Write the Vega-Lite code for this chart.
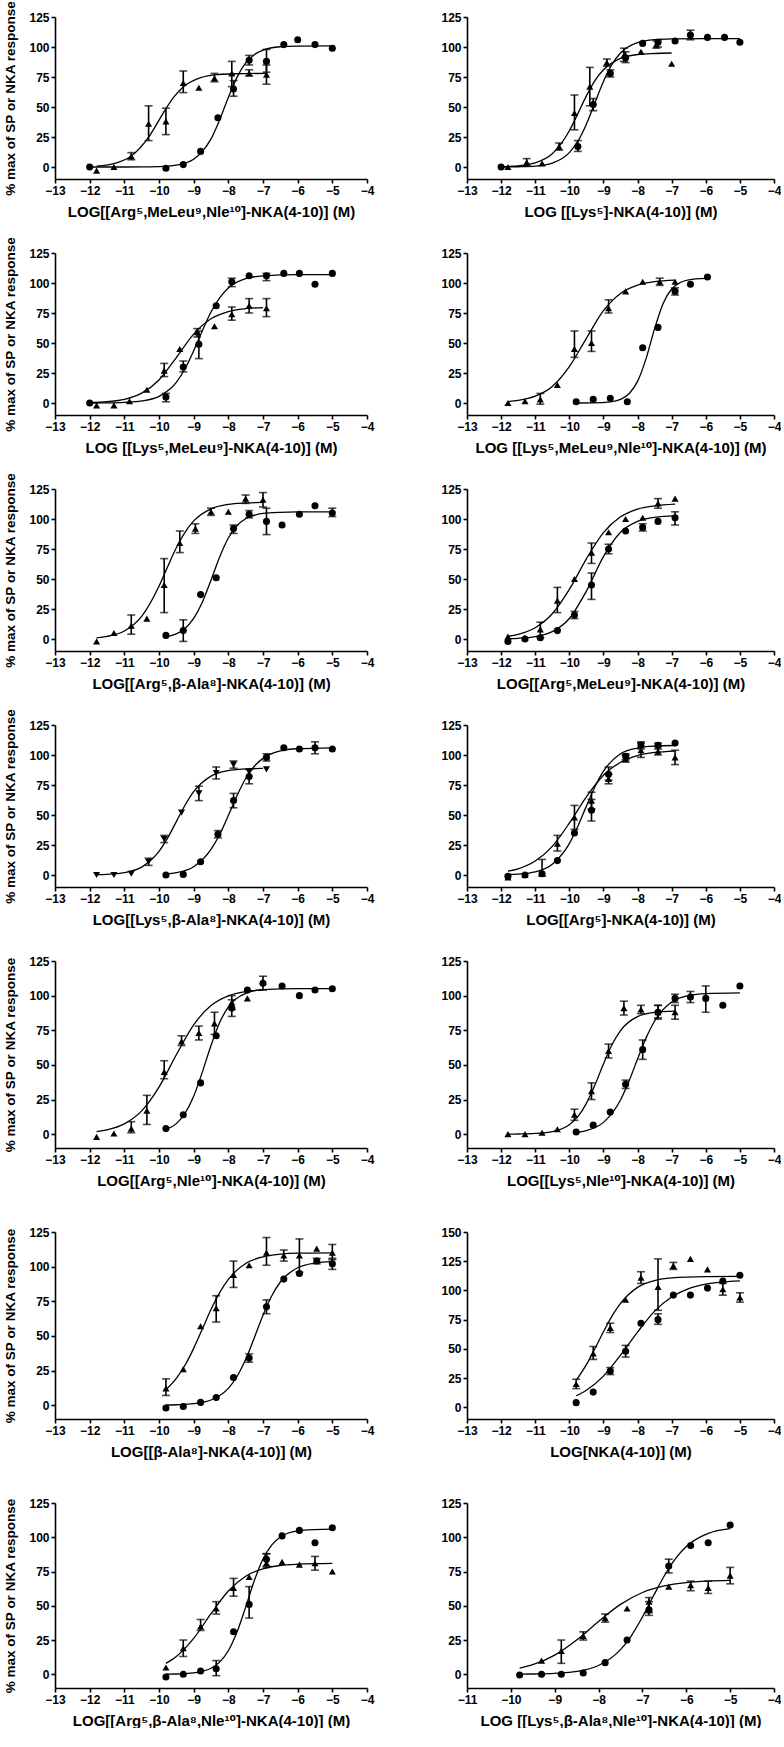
{
"$schema":"https://vega.github.io/schema/vega-lite/v6.json",
"padding":{"left":3,"top":0,"right":0,"bottom":0},
"config":{"view":{"stroke":null},"font":"Liberation Sans",
"axis":{"grid":false,"domainColor":"black","domainWidth":1.6,"tickColor":"black","tickWidth":1.6,"tickSize":4,"labelFont":"Liberation Sans","labelFontWeight":"bold","labelFontSize":12,"labelColor":"black","labelPadding":2,"titleFont":"Liberation Sans, DejaVu Sans, sans-serif","titleFontWeight":"bold","titleColor":"black","labelFlush":false,"labelOverlap":false},
"axisX":{"titleFontSize":15,"titlePadding":8},
"axisY":{"titleFontSize":13.5,"titlePadding":11}},
"datasets":{
"pts":[
{"p":1,"s":"c","x":-12,"y":0},{"p":1,"s":"c","x":-9.8,"y":-1},{"p":1,"s":"c","x":-9.3,"y":2},{"p":1,"s":"c","x":-8.8,"y":13},{"p":1,"s":"c","x":-8.3,"y":41},{"p":1,"s":"c","x":-7.85,"y":65,"lo":59,"hi":72},{"p":1,"s":"c","x":-7.4,"y":89,"lo":85,"hi":93},{"p":1,"s":"c","x":-6.9,"y":88,"lo":79,"hi":98},{"p":1,"s":"c","x":-6.4,"y":102},{"p":1,"s":"c","x":-6,"y":106},{"p":1,"s":"c","x":-5.5,"y":102},{"p":1,"s":"c","x":-5,"y":99},
{"p":1,"s":"t","x":-11.8,"y":-3},{"p":1,"s":"t","x":-11.3,"y":0},{"p":1,"s":"t","x":-10.8,"y":9,"lo":6,"hi":12},{"p":1,"s":"t","x":-10.3,"y":36,"lo":22,"hi":51},{"p":1,"s":"t","x":-9.8,"y":38,"lo":27,"hi":49},{"p":1,"s":"t","x":-9.3,"y":70,"lo":62,"hi":80},{"p":1,"s":"t","x":-8.85,"y":66},{"p":1,"s":"t","x":-8.4,"y":74,"lo":71,"hi":78},{"p":1,"s":"t","x":-7.9,"y":78,"lo":67,"hi":88},{"p":1,"s":"t","x":-7.4,"y":78,"lo":76,"hi":81},{"p":1,"s":"t","x":-6.9,"y":77,"lo":69,"hi":85},
{"p":2,"s":"c","x":-12,"y":0},{"p":2,"s":"c","x":-9.75,"y":17,"lo":13,"hi":22},{"p":2,"s":"c","x":-9.3,"y":52,"lo":47,"hi":57},{"p":2,"s":"c","x":-8.8,"y":78,"lo":75,"hi":81},{"p":2,"s":"c","x":-8.35,"y":91,"lo":87,"hi":96},{"p":2,"s":"c","x":-7.85,"y":103},{"p":2,"s":"c","x":-7.4,"y":104,"lo":100,"hi":106},{"p":2,"s":"c","x":-6.9,"y":105},{"p":2,"s":"c","x":-6.45,"y":110,"lo":106,"hi":114},{"p":2,"s":"c","x":-5.95,"y":108},{"p":2,"s":"c","x":-5.45,"y":108},{"p":2,"s":"c","x":-5,"y":104},
{"p":2,"s":"t","x":-11.8,"y":0},{"p":2,"s":"t","x":-11.25,"y":4,"lo":1,"hi":7},{"p":2,"s":"t","x":-10.8,"y":3},{"p":2,"s":"t","x":-10.3,"y":17,"lo":14,"hi":20},{"p":2,"s":"t","x":-9.85,"y":45,"lo":31,"hi":60},{"p":2,"s":"t","x":-9.4,"y":67,"lo":51,"hi":83},{"p":2,"s":"t","x":-8.9,"y":87,"lo":84,"hi":90},{"p":2,"s":"t","x":-8.4,"y":93,"lo":88,"hi":99},{"p":2,"s":"t","x":-7.9,"y":96},{"p":2,"s":"t","x":-7.45,"y":102,"lo":99,"hi":105},{"p":2,"s":"t","x":-7,"y":86},
{"p":3,"s":"c","x":-12,"y":0},{"p":3,"s":"c","x":-9.8,"y":5,"lo":1,"hi":8},{"p":3,"s":"c","x":-9.3,"y":30,"lo":26,"hi":35},{"p":3,"s":"c","x":-8.85,"y":49,"lo":37,"hi":60},{"p":3,"s":"c","x":-8.35,"y":81},{"p":3,"s":"c","x":-7.9,"y":101,"lo":97,"hi":104},{"p":3,"s":"c","x":-7.4,"y":106},{"p":3,"s":"c","x":-6.9,"y":106,"lo":102,"hi":108},{"p":3,"s":"c","x":-6.4,"y":108},{"p":3,"s":"c","x":-5.95,"y":108},{"p":3,"s":"c","x":-5.5,"y":99},{"p":3,"s":"c","x":-5,"y":108},
{"p":3,"s":"t","x":-11.8,"y":-2},{"p":3,"s":"t","x":-11.3,"y":-2},{"p":3,"s":"t","x":-10.85,"y":1.5},{"p":3,"s":"t","x":-10.35,"y":11},{"p":3,"s":"t","x":-9.85,"y":27,"lo":22,"hi":33},{"p":3,"s":"t","x":-9.4,"y":45},{"p":3,"s":"t","x":-8.9,"y":59,"lo":55,"hi":62},{"p":3,"s":"t","x":-8.4,"y":64},{"p":3,"s":"t","x":-7.9,"y":74,"lo":69,"hi":80},{"p":3,"s":"t","x":-7.4,"y":81,"lo":75,"hi":87},{"p":3,"s":"t","x":-6.9,"y":79,"lo":72,"hi":87},
{"p":4,"s":"t","x":-11.8,"y":0},{"p":4,"s":"t","x":-11.3,"y":1.5},{"p":4,"s":"t","x":-10.85,"y":3,"lo":-1,"hi":8},{"p":4,"s":"t","x":-10.35,"y":15},{"p":4,"s":"t","x":-9.85,"y":45,"lo":38,"hi":60},{"p":4,"s":"t","x":-9.35,"y":50,"lo":43,"hi":60},{"p":4,"s":"t","x":-8.85,"y":79,"lo":75,"hi":86},{"p":4,"s":"t","x":-8.35,"y":93},{"p":4,"s":"t","x":-7.85,"y":101},{"p":4,"s":"t","x":-7.35,"y":101,"lo":98,"hi":104},{"p":4,"s":"t","x":-6.9,"y":101},
{"p":4,"s":"c","x":-9.8,"y":1},{"p":4,"s":"c","x":-9.3,"y":3},{"p":4,"s":"c","x":-8.8,"y":4},{"p":4,"s":"c","x":-8.3,"y":1},{"p":4,"s":"c","x":-7.85,"y":46},{"p":4,"s":"c","x":-7.4,"y":63},{"p":4,"s":"c","x":-6.9,"y":93,"lo":90,"hi":96},{"p":4,"s":"c","x":-6.45,"y":99},{"p":4,"s":"c","x":-5.95,"y":105},
{"p":5,"s":"t","x":-11.8,"y":-2},{"p":5,"s":"t","x":-11.3,"y":5},{"p":5,"s":"t","x":-10.8,"y":11,"lo":4,"hi":20},{"p":5,"s":"t","x":-10.35,"y":17},{"p":5,"s":"t","x":-9.85,"y":45,"lo":22,"hi":67},{"p":5,"s":"t","x":-9.4,"y":80,"lo":72,"hi":90},{"p":5,"s":"t","x":-8.95,"y":92,"lo":88,"hi":96},{"p":5,"s":"t","x":-8.5,"y":106,"lo":103,"hi":109},{"p":5,"s":"t","x":-8,"y":106},{"p":5,"s":"t","x":-7.5,"y":117,"lo":113,"hi":120},{"p":5,"s":"t","x":-7,"y":116,"lo":110,"hi":122},
{"p":5,"s":"c","x":-9.8,"y":3},{"p":5,"s":"c","x":-9.3,"y":7,"lo":-2,"hi":16},{"p":5,"s":"c","x":-8.8,"y":37},{"p":5,"s":"c","x":-8.35,"y":51},{"p":5,"s":"c","x":-7.85,"y":92,"lo":88,"hi":95},{"p":5,"s":"c","x":-7.4,"y":104,"lo":101,"hi":107},{"p":5,"s":"c","x":-6.9,"y":98,"lo":87,"hi":109},{"p":5,"s":"c","x":-6.45,"y":95},{"p":5,"s":"c","x":-5.95,"y":104},{"p":5,"s":"c","x":-5.5,"y":111},{"p":5,"s":"c","x":-5,"y":105,"lo":102,"hi":109},
{"p":6,"s":"c","x":-11.8,"y":-2},{"p":6,"s":"c","x":-11.3,"y":0},{"p":6,"s":"c","x":-10.85,"y":1},{"p":6,"s":"c","x":-10.35,"y":7},{"p":6,"s":"c","x":-9.85,"y":20,"lo":17,"hi":23},{"p":6,"s":"c","x":-9.35,"y":45,"lo":33,"hi":55},{"p":6,"s":"c","x":-8.85,"y":75,"lo":71,"hi":79},{"p":6,"s":"c","x":-8.35,"y":90},{"p":6,"s":"c","x":-7.85,"y":93,"lo":90,"hi":96},{"p":6,"s":"c","x":-7.4,"y":98},{"p":6,"s":"c","x":-6.9,"y":101,"lo":95,"hi":106},
{"p":6,"s":"t","x":-11.8,"y":2},{"p":6,"s":"t","x":-11.3,"y":1},{"p":6,"s":"t","x":-10.85,"y":8,"lo":1,"hi":14},{"p":6,"s":"t","x":-10.35,"y":32,"lo":22,"hi":43},{"p":6,"s":"t","x":-9.85,"y":50},{"p":6,"s":"t","x":-9.35,"y":72,"lo":63,"hi":80},{"p":6,"s":"t","x":-8.85,"y":89},{"p":6,"s":"t","x":-8.35,"y":100},{"p":6,"s":"t","x":-7.85,"y":101},{"p":6,"s":"t","x":-7.4,"y":113,"lo":109,"hi":117},{"p":6,"s":"t","x":-6.9,"y":117},
{"p":7,"s":"v","x":-11.8,"y":0},{"p":7,"s":"v","x":-11.3,"y":0},{"p":7,"s":"v","x":-10.8,"y":1},{"p":7,"s":"v","x":-10.3,"y":11,"lo":8,"hi":14},{"p":7,"s":"v","x":-9.85,"y":30,"lo":27,"hi":33},{"p":7,"s":"v","x":-9.35,"y":52},{"p":7,"s":"v","x":-8.85,"y":68,"lo":62,"hi":74},{"p":7,"s":"v","x":-8.35,"y":85,"lo":80,"hi":90},{"p":7,"s":"v","x":-7.85,"y":92,"lo":89,"hi":95},{"p":7,"s":"v","x":-7.4,"y":86},{"p":7,"s":"v","x":-6.9,"y":88},
{"p":7,"s":"c","x":-9.8,"y":0},{"p":7,"s":"c","x":-9.3,"y":0.5},{"p":7,"s":"c","x":-8.8,"y":11},{"p":7,"s":"c","x":-8.3,"y":34,"lo":31,"hi":37},{"p":7,"s":"c","x":-7.85,"y":62,"lo":56,"hi":68},{"p":7,"s":"c","x":-7.4,"y":82,"lo":76,"hi":88},{"p":7,"s":"c","x":-6.9,"y":98,"lo":95,"hi":101},{"p":7,"s":"c","x":-6.4,"y":106},{"p":7,"s":"c","x":-5.95,"y":105},{"p":7,"s":"c","x":-5.5,"y":106,"lo":101,"hi":111},{"p":7,"s":"c","x":-5,"y":105},
{"p":8,"s":"t","x":-11.8,"y":-2},{"p":8,"s":"t","x":-11.3,"y":0},{"p":8,"s":"t","x":-10.8,"y":2,"lo":-1,"hi":13},{"p":8,"s":"t","x":-10.35,"y":26,"lo":20,"hi":33},{"p":8,"s":"t","x":-9.85,"y":48,"lo":38,"hi":58},{"p":8,"s":"t","x":-9.35,"y":62,"lo":55,"hi":69},{"p":8,"s":"t","x":-8.85,"y":80,"lo":76,"hi":84},{"p":8,"s":"t","x":-8.35,"y":97,"lo":94,"hi":100},{"p":8,"s":"t","x":-7.9,"y":104,"lo":98,"hi":110},{"p":8,"s":"t","x":-7.4,"y":103,"lo":100,"hi":107},{"p":8,"s":"t","x":-6.9,"y":98,"lo":92,"hi":104},
{"p":8,"s":"c","x":-11.8,"y":-1},{"p":8,"s":"c","x":-11.3,"y":0},{"p":8,"s":"c","x":-10.8,"y":1},{"p":8,"s":"c","x":-10.35,"y":12},{"p":8,"s":"c","x":-9.85,"y":35},{"p":8,"s":"c","x":-9.35,"y":54,"lo":45,"hi":63},{"p":8,"s":"c","x":-8.85,"y":84,"lo":79,"hi":90},{"p":8,"s":"c","x":-8.35,"y":99,"lo":96,"hi":101},{"p":8,"s":"c","x":-7.9,"y":108,"lo":105,"hi":111},{"p":8,"s":"c","x":-7.4,"y":108,"lo":105,"hi":110},{"p":8,"s":"c","x":-6.9,"y":110},
{"p":9,"s":"t","x":-11.8,"y":-2},{"p":9,"s":"t","x":-11.3,"y":0.5},{"p":9,"s":"t","x":-10.8,"y":4,"lo":1,"hi":9},{"p":9,"s":"t","x":-10.35,"y":17,"lo":7,"hi":28},{"p":9,"s":"t","x":-9.85,"y":45,"lo":40,"hi":53},{"p":9,"s":"t","x":-9.35,"y":67,"lo":64,"hi":71},{"p":9,"s":"t","x":-8.85,"y":73,"lo":68,"hi":78},{"p":9,"s":"t","x":-8.4,"y":80,"lo":72,"hi":88},{"p":9,"s":"t","x":-7.9,"y":95,"lo":90,"hi":100},{"p":9,"s":"t","x":-7.45,"y":98},{"p":9,"s":"t","x":-7,"y":110,"lo":104,"hi":114},
{"p":9,"s":"c","x":-9.8,"y":4},{"p":9,"s":"c","x":-9.3,"y":14},{"p":9,"s":"c","x":-8.8,"y":37},{"p":9,"s":"c","x":-8.35,"y":71},{"p":9,"s":"c","x":-7.9,"y":91,"lo":85,"hi":97},{"p":9,"s":"c","x":-7.45,"y":104},{"p":9,"s":"c","x":-7,"y":109},{"p":9,"s":"c","x":-6.45,"y":107},{"p":9,"s":"c","x":-5.95,"y":100},{"p":9,"s":"c","x":-5.5,"y":104},{"p":9,"s":"c","x":-5,"y":105},
{"p":10,"s":"t","x":-11.8,"y":0},{"p":10,"s":"t","x":-11.3,"y":0},{"p":10,"s":"t","x":-10.8,"y":1},{"p":10,"s":"t","x":-10.35,"y":3.5},{"p":10,"s":"t","x":-9.85,"y":14,"lo":10,"hi":18},{"p":10,"s":"t","x":-9.35,"y":31,"lo":25,"hi":37},{"p":10,"s":"t","x":-8.85,"y":60,"lo":55,"hi":65},{"p":10,"s":"t","x":-8.4,"y":91,"lo":86,"hi":96},{"p":10,"s":"t","x":-7.9,"y":90,"lo":87,"hi":93},{"p":10,"s":"t","x":-7.4,"y":88,"lo":84,"hi":93},{"p":10,"s":"t","x":-6.9,"y":88,"lo":83,"hi":93},
{"p":10,"s":"c","x":-9.8,"y":1.5},{"p":10,"s":"c","x":-9.3,"y":6.5},{"p":10,"s":"c","x":-8.8,"y":16},{"p":10,"s":"c","x":-8.35,"y":36,"lo":33,"hi":39},{"p":10,"s":"c","x":-7.85,"y":61,"lo":54,"hi":68},{"p":10,"s":"c","x":-7.4,"y":88,"lo":83,"hi":93},{"p":10,"s":"c","x":-6.9,"y":98,"lo":95,"hi":101},{"p":10,"s":"c","x":-6.45,"y":99,"lo":95,"hi":103},{"p":10,"s":"c","x":-6,"y":98,"lo":88,"hi":107},{"p":10,"s":"c","x":-5.5,"y":93},{"p":10,"s":"c","x":-5,"y":107},
{"p":11,"s":"t","x":-9.8,"y":12,"lo":7,"hi":19},{"p":11,"s":"t","x":-9.3,"y":26},{"p":11,"s":"t","x":-8.8,"y":57},{"p":11,"s":"t","x":-8.35,"y":70,"lo":60,"hi":79},{"p":11,"s":"t","x":-7.85,"y":94,"lo":85,"hi":104},{"p":11,"s":"t","x":-7.4,"y":101},{"p":11,"s":"t","x":-6.9,"y":110,"lo":101,"hi":121},{"p":11,"s":"t","x":-6.4,"y":108,"lo":104,"hi":112},{"p":11,"s":"t","x":-5.95,"y":108,"lo":96,"hi":120},{"p":11,"s":"t","x":-5.45,"y":113},{"p":11,"s":"t","x":-5,"y":110,"lo":105,"hi":116},
{"p":11,"s":"c","x":-9.8,"y":-2},{"p":11,"s":"c","x":-9.3,"y":-1},{"p":11,"s":"c","x":-8.8,"y":2},{"p":11,"s":"c","x":-8.35,"y":5.5},{"p":11,"s":"c","x":-7.85,"y":20},{"p":11,"s":"c","x":-7.4,"y":34,"lo":31,"hi":37},{"p":11,"s":"c","x":-6.9,"y":71,"lo":66,"hi":76},{"p":11,"s":"c","x":-6.4,"y":91},{"p":11,"s":"c","x":-5.95,"y":95},{"p":11,"s":"c","x":-5.45,"y":104,"lo":102,"hi":106},{"p":11,"s":"c","x":-5,"y":102,"lo":98,"hi":106},
{"p":12,"s":"t","x":-9.8,"y":20,"lo":16,"hi":24},{"p":12,"s":"t","x":-9.3,"y":46,"lo":41,"hi":52},{"p":12,"s":"t","x":-8.8,"y":68,"lo":64,"hi":72},{"p":12,"s":"t","x":-8.35,"y":92},{"p":12,"s":"t","x":-7.9,"y":111,"lo":106,"hi":116},{"p":12,"s":"t","x":-7.4,"y":103,"lo":83,"hi":127},{"p":12,"s":"t","x":-6.95,"y":121,"lo":118,"hi":124},{"p":12,"s":"t","x":-6.45,"y":127},{"p":12,"s":"t","x":-5.95,"y":118},{"p":12,"s":"t","x":-5.5,"y":101,"lo":96,"hi":106},{"p":12,"s":"t","x":-5,"y":94,"lo":90,"hi":98},
{"p":12,"s":"c","x":-9.8,"y":4},{"p":12,"s":"c","x":-9.3,"y":13},{"p":12,"s":"c","x":-8.8,"y":31,"lo":28,"hi":34},{"p":12,"s":"c","x":-8.35,"y":48,"lo":43,"hi":53},{"p":12,"s":"c","x":-7.9,"y":72},{"p":12,"s":"c","x":-7.4,"y":75,"lo":71,"hi":80},{"p":12,"s":"c","x":-6.95,"y":96},{"p":12,"s":"c","x":-6.45,"y":96},{"p":12,"s":"c","x":-5.95,"y":102},{"p":12,"s":"c","x":-5.5,"y":108},{"p":12,"s":"c","x":-5,"y":113},
{"p":13,"s":"c","x":-9.8,"y":-2},{"p":13,"s":"c","x":-9.3,"y":0},{"p":13,"s":"c","x":-8.8,"y":2.4},{"p":13,"s":"c","x":-8.35,"y":4,"lo":-1,"hi":10},{"p":13,"s":"c","x":-7.85,"y":31},{"p":13,"s":"c","x":-7.4,"y":51,"lo":41,"hi":64},{"p":13,"s":"c","x":-6.9,"y":84,"lo":79,"hi":88},{"p":13,"s":"c","x":-6.45,"y":101},{"p":13,"s":"c","x":-5.95,"y":105},{"p":13,"s":"c","x":-5.5,"y":96},{"p":13,"s":"c","x":-5,"y":107},
{"p":13,"s":"t","x":-9.8,"y":5},{"p":13,"s":"t","x":-9.3,"y":19,"lo":13,"hi":25},{"p":13,"s":"t","x":-8.8,"y":35,"lo":32,"hi":40},{"p":13,"s":"t","x":-8.35,"y":48,"lo":44,"hi":53},{"p":13,"s":"t","x":-7.85,"y":63,"lo":57,"hi":70},{"p":13,"s":"t","x":-7.4,"y":71},{"p":13,"s":"t","x":-6.9,"y":81,"lo":78,"hi":88},{"p":13,"s":"t","x":-6.45,"y":82},{"p":13,"s":"t","x":-5.95,"y":80},{"p":13,"s":"t","x":-5.5,"y":81,"lo":76,"hi":86},{"p":13,"s":"t","x":-5,"y":75},
{"p":14,"s":"c","x":-9.8,"y":-0.5},{"p":14,"s":"c","x":-9.3,"y":0},{"p":14,"s":"c","x":-8.85,"y":0},{"p":14,"s":"c","x":-8.35,"y":1},{"p":14,"s":"c","x":-7.85,"y":8.5},{"p":14,"s":"c","x":-7.35,"y":25},{"p":14,"s":"c","x":-6.85,"y":47,"lo":43,"hi":53},{"p":14,"s":"c","x":-6.4,"y":79,"lo":74,"hi":84},{"p":14,"s":"c","x":-5.9,"y":94},{"p":14,"s":"c","x":-5.5,"y":96},{"p":14,"s":"c","x":-5,"y":109},
{"p":14,"s":"t","x":-9.3,"y":10},{"p":14,"s":"t","x":-8.85,"y":17,"lo":8,"hi":25},{"p":14,"s":"t","x":-8.35,"y":28,"lo":25,"hi":31},{"p":14,"s":"t","x":-7.85,"y":41,"lo":38,"hi":44},{"p":14,"s":"t","x":-7.35,"y":48},{"p":14,"s":"t","x":-6.85,"y":53,"lo":45,"hi":56},{"p":14,"s":"t","x":-6.4,"y":64},{"p":14,"s":"t","x":-5.9,"y":65,"lo":61,"hi":68},{"p":14,"s":"t","x":-5.5,"y":63,"lo":59,"hi":68},{"p":14,"s":"t","x":-5,"y":72,"lo":66,"hi":78}
],
"fit":[
{"p":1,"s":"c","x":-12,"y":0},{"p":1,"s":"c","x":-11,"y":0},{"p":1,"s":"c","x":-10.5,"y":0.1},{"p":1,"s":"c","x":-10,"y":0.3},{"p":1,"s":"c","x":-9.5,"y":1.5},{"p":1,"s":"c","x":-9,"y":6.4},{"p":1,"s":"c","x":-8.75,"y":13},{"p":1,"s":"c","x":-8.5,"y":23.4},{"p":1,"s":"c","x":-8.25,"y":39.4},{"p":1,"s":"c","x":-8,"y":58},{"p":1,"s":"c","x":-7.75,"y":74.7},{"p":1,"s":"c","x":-7.5,"y":86.7},{"p":1,"s":"c","x":-7.25,"y":93.6},{"p":1,"s":"c","x":-7,"y":97.4},{"p":1,"s":"c","x":-6.5,"y":100.2},{"p":1,"s":"c","x":-6,"y":100.8},{"p":1,"s":"c","x":-5,"y":101},
{"p":1,"s":"t","x":-11.8,"y":0.8},{"p":1,"s":"t","x":-11.3,"y":2.8},{"p":1,"s":"t","x":-10.8,"y":9.1},{"p":1,"s":"t","x":-10.3,"y":24.8},{"p":1,"s":"t","x":-10.05,"y":36.5},{"p":1,"s":"t","x":-9.8,"y":48.7},{"p":1,"s":"t","x":-9.55,"y":59.1},{"p":1,"s":"t","x":-9.3,"y":66.7},{"p":1,"s":"t","x":-8.8,"y":74.4},{"p":1,"s":"t","x":-8.3,"y":77},{"p":1,"s":"t","x":-7.8,"y":77.7},{"p":1,"s":"t","x":-6.9,"y":78},
{"p":2,"s":"c","x":-12,"y":0},{"p":2,"s":"c","x":-11.5,"y":0.2},{"p":2,"s":"c","x":-11,"y":0.8},{"p":2,"s":"c","x":-10.5,"y":3.3},{"p":2,"s":"c","x":-10,"y":12},{"p":2,"s":"c","x":-9.75,"y":21.5},{"p":2,"s":"c","x":-9.5,"y":35.7},{"p":2,"s":"c","x":-9.25,"y":53.5},{"p":2,"s":"c","x":-9,"y":71.3},{"p":2,"s":"c","x":-8.75,"y":85.5},{"p":2,"s":"c","x":-8.5,"y":95},{"p":2,"s":"c","x":-8,"y":103.7},{"p":2,"s":"c","x":-7.5,"y":106.1},{"p":2,"s":"c","x":-7,"y":106.7},{"p":2,"s":"c","x":-6,"y":107},{"p":2,"s":"c","x":-5,"y":107},
{"p":2,"s":"t","x":-12,"y":0.3},{"p":2,"s":"t","x":-11.5,"y":1},{"p":2,"s":"t","x":-11,"y":3.4},{"p":2,"s":"t","x":-10.5,"y":11},{"p":2,"s":"t","x":-10.25,"y":19},{"p":2,"s":"t","x":-10,"y":30.2},{"p":2,"s":"t","x":-9.75,"y":44.5},{"p":2,"s":"t","x":-9.5,"y":59.3},{"p":2,"s":"t","x":-9.25,"y":72},{"p":2,"s":"t","x":-9,"y":81},{"p":2,"s":"t","x":-8.5,"y":90.6},{"p":2,"s":"t","x":-8,"y":93.7},{"p":2,"s":"t","x":-7.5,"y":94.6},{"p":2,"s":"t","x":-7,"y":95},
{"p":3,"s":"c","x":-12,"y":0},{"p":3,"s":"c","x":-11.5,"y":0.1},{"p":3,"s":"c","x":-11,"y":0.5},{"p":3,"s":"c","x":-10.5,"y":1.7},{"p":3,"s":"c","x":-10,"y":5.5},{"p":3,"s":"c","x":-9.5,"y":17.1},{"p":3,"s":"c","x":-9.25,"y":28.5},{"p":3,"s":"c","x":-9,"y":43.5},{"p":3,"s":"c","x":-8.75,"y":60.2},{"p":3,"s":"c","x":-8.5,"y":75.8},{"p":3,"s":"c","x":-8.25,"y":87.7},{"p":3,"s":"c","x":-8,"y":95.9},{"p":3,"s":"c","x":-7.5,"y":103.6},{"p":3,"s":"c","x":-7,"y":106},{"p":3,"s":"c","x":-6,"y":107},{"p":3,"s":"c","x":-5,"y":107},
{"p":3,"s":"t","x":-12,"y":0.4},{"p":3,"s":"t","x":-11.5,"y":1.1},{"p":3,"s":"t","x":-11,"y":3},{"p":3,"s":"t","x":-10.5,"y":8.2},{"p":3,"s":"t","x":-10,"y":19.2},{"p":3,"s":"t","x":-9.5,"y":37.9},{"p":3,"s":"t","x":-9,"y":57.4},{"p":3,"s":"t","x":-8.5,"y":70.2},{"p":3,"s":"t","x":-8,"y":76.2},{"p":3,"s":"t","x":-7.5,"y":78.6},{"p":3,"s":"t","x":-7,"y":79.5},
{"p":4,"s":"c","x":-9.8,"y":0},{"p":4,"s":"c","x":-9.3,"y":0.1},{"p":4,"s":"c","x":-8.8,"y":0.9},{"p":4,"s":"c","x":-8.5,"y":3},{"p":4,"s":"c","x":-8.25,"y":7.7},{"p":4,"s":"c","x":-8,"y":18},{"p":4,"s":"c","x":-7.75,"y":37},{"p":4,"s":"c","x":-7.5,"y":62},{"p":4,"s":"c","x":-7.25,"y":83},{"p":4,"s":"c","x":-7,"y":95},{"p":4,"s":"c","x":-6.75,"y":100.4},{"p":4,"s":"c","x":-6.5,"y":102.6},{"p":4,"s":"c","x":-6,"y":103.8},
{"p":4,"s":"t","x":-11.8,"y":1.2},{"p":4,"s":"t","x":-11.5,"y":2.2},{"p":4,"s":"t","x":-11,"y":5.7},{"p":4,"s":"t","x":-10.5,"y":13.8},{"p":4,"s":"t","x":-10,"y":30.3},{"p":4,"s":"t","x":-9.5,"y":53.9},{"p":4,"s":"t","x":-9,"y":76.9},{"p":4,"s":"t","x":-8.5,"y":91.3},{"p":4,"s":"t","x":-8,"y":98.2},{"p":4,"s":"t","x":-7.5,"y":101.1},{"p":4,"s":"t","x":-6.9,"y":102.4},
{"p":5,"s":"t","x":-11.8,"y":1},{"p":5,"s":"t","x":-11.5,"y":2.2},{"p":5,"s":"t","x":-11,"y":6.7},{"p":5,"s":"t","x":-10.5,"y":18.9},{"p":5,"s":"t","x":-10,"y":44},{"p":5,"s":"t","x":-9.75,"y":60.3},{"p":5,"s":"t","x":-9.5,"y":76},{"p":5,"s":"t","x":-9.25,"y":88.9},{"p":5,"s":"t","x":-9,"y":98.4},{"p":5,"s":"t","x":-8.5,"y":108.5},{"p":5,"s":"t","x":-8,"y":112.2},{"p":5,"s":"t","x":-7.5,"y":113.4},{"p":5,"s":"t","x":-7,"y":113.8},
{"p":5,"s":"c","x":-9.8,"y":1.8},{"p":5,"s":"c","x":-9.5,"y":4.3},{"p":5,"s":"c","x":-9.25,"y":8.8},{"p":5,"s":"c","x":-9,"y":17.2},{"p":5,"s":"c","x":-8.75,"y":30.7},{"p":5,"s":"c","x":-8.5,"y":49},{"p":5,"s":"c","x":-8.25,"y":68.4},{"p":5,"s":"c","x":-8,"y":84.2},{"p":5,"s":"c","x":-7.75,"y":94.4},{"p":5,"s":"c","x":-7.5,"y":100.2},{"p":5,"s":"c","x":-7,"y":104.6},{"p":5,"s":"c","x":-6.5,"y":105.6},{"p":5,"s":"c","x":-6,"y":105.9},{"p":5,"s":"c","x":-5,"y":106},
{"p":6,"s":"t","x":-11.8,"y":2.3},{"p":6,"s":"t","x":-11.5,"y":3.9},{"p":6,"s":"t","x":-11,"y":9.4},{"p":6,"s":"t","x":-10.5,"y":21},{"p":6,"s":"t","x":-10,"y":41.3},{"p":6,"s":"t","x":-9.5,"y":66.8},{"p":6,"s":"t","x":-9,"y":88.6},{"p":6,"s":"t","x":-8.5,"y":101.8},{"p":6,"s":"t","x":-8,"y":108.3},{"p":6,"s":"t","x":-7.5,"y":111},{"p":6,"s":"t","x":-6.9,"y":112.4},
{"p":6,"s":"c","x":-11.8,"y":0.3},{"p":6,"s":"c","x":-11.5,"y":0.6},{"p":6,"s":"c","x":-11,"y":2},{"p":6,"s":"c","x":-10.5,"y":6.1},{"p":6,"s":"c","x":-10,"y":17.1},{"p":6,"s":"c","x":-9.5,"y":39.9},{"p":6,"s":"c","x":-9,"y":68.6},{"p":6,"s":"c","x":-8.5,"y":88.9},{"p":6,"s":"c","x":-8,"y":98},{"p":6,"s":"c","x":-7.5,"y":101.4},{"p":6,"s":"c","x":-6.9,"y":102.6},
{"p":7,"s":"v","x":-11.8,"y":0.3},{"p":7,"s":"v","x":-11.5,"y":0.6},{"p":7,"s":"v","x":-11,"y":2},{"p":7,"s":"v","x":-10.5,"y":6.6},{"p":7,"s":"v","x":-10,"y":19.6},{"p":7,"s":"v","x":-9.75,"y":30.9},{"p":7,"s":"v","x":-9.5,"y":44.5},{"p":7,"s":"v","x":-9.25,"y":58.1},{"p":7,"s":"v","x":-9,"y":69.4},{"p":7,"s":"v","x":-8.5,"y":82.4},{"p":7,"s":"v","x":-8,"y":87},{"p":7,"s":"v","x":-7.5,"y":88.4},{"p":7,"s":"v","x":-7,"y":88.9},
{"p":7,"s":"c","x":-9.8,"y":1},{"p":7,"s":"c","x":-9.5,"y":2},{"p":7,"s":"c","x":-9,"y":6.9},{"p":7,"s":"c","x":-8.5,"y":21.3},{"p":7,"s":"c","x":-8.25,"y":33.7},{"p":7,"s":"c","x":-8,"y":49.6},{"p":7,"s":"c","x":-7.75,"y":66.1},{"p":7,"s":"c","x":-7.5,"y":80.4},{"p":7,"s":"c","x":-7.25,"y":90.6},{"p":7,"s":"c","x":-7,"y":97.2},{"p":7,"s":"c","x":-6.5,"y":103.4},{"p":7,"s":"c","x":-6,"y":105.2},{"p":7,"s":"c","x":-5,"y":106},
{"p":8,"s":"t","x":-11.8,"y":3.2},{"p":8,"s":"t","x":-11.5,"y":5.2},{"p":8,"s":"t","x":-11,"y":11.6},{"p":8,"s":"t","x":-10.5,"y":23.9},{"p":8,"s":"t","x":-10,"y":43.2},{"p":8,"s":"t","x":-9.5,"y":65.2},{"p":8,"s":"t","x":-9,"y":83.1},{"p":8,"s":"t","x":-8.5,"y":94},{"p":8,"s":"t","x":-8,"y":99.5},{"p":8,"s":"t","x":-7.5,"y":102.1},{"p":8,"s":"t","x":-6.9,"y":103.3},
{"p":8,"s":"c","x":-11.8,"y":0.4},{"p":8,"s":"c","x":-11.5,"y":0.8},{"p":8,"s":"c","x":-11,"y":2.6},{"p":8,"s":"c","x":-10.5,"y":9},{"p":8,"s":"c","x":-10,"y":26.1},{"p":8,"s":"c","x":-9.75,"y":40.6},{"p":8,"s":"c","x":-9.5,"y":57.4},{"p":8,"s":"c","x":-9.25,"y":73.6},{"p":8,"s":"c","x":-9,"y":86.5},{"p":8,"s":"c","x":-8.5,"y":101},{"p":8,"s":"c","x":-8,"y":105.8},{"p":8,"s":"c","x":-7.5,"y":107.4},{"p":8,"s":"c","x":-6.9,"y":107.9},
{"p":9,"s":"t","x":-11.8,"y":1.8},{"p":9,"s":"t","x":-11.5,"y":3.1},{"p":9,"s":"t","x":-11,"y":7.4},{"p":9,"s":"t","x":-10.5,"y":16.8},{"p":9,"s":"t","x":-10,"y":34},{"p":9,"s":"t","x":-9.5,"y":57.3},{"p":9,"s":"t","x":-9,"y":78.9},{"p":9,"s":"t","x":-8.5,"y":92.8},{"p":9,"s":"t","x":-8,"y":99.8},{"p":9,"s":"t","x":-7.5,"y":102.9},{"p":9,"s":"t","x":-7,"y":104.1},
{"p":9,"s":"c","x":-9.8,"y":3.2},{"p":9,"s":"c","x":-9.5,"y":7.6},{"p":9,"s":"c","x":-9.25,"y":14.9},{"p":9,"s":"c","x":-9,"y":27.3},{"p":9,"s":"c","x":-8.75,"y":44.8},{"p":9,"s":"c","x":-8.5,"y":64},{"p":9,"s":"c","x":-8.25,"y":80.6},{"p":9,"s":"c","x":-8,"y":91.9},{"p":9,"s":"c","x":-7.5,"y":101.7},{"p":9,"s":"c","x":-7,"y":104.3},{"p":9,"s":"c","x":-6,"y":105},{"p":9,"s":"c","x":-5,"y":105},
{"p":10,"s":"t","x":-11.8,"y":0},{"p":10,"s":"t","x":-11.5,"y":0.1},{"p":10,"s":"t","x":-11,"y":0.5},{"p":10,"s":"t","x":-10.5,"y":1.8},{"p":10,"s":"t","x":-10,"y":6.8},{"p":10,"s":"t","x":-9.75,"y":12.6},{"p":10,"s":"t","x":-9.5,"y":22.2},{"p":10,"s":"t","x":-9.25,"y":35.4},{"p":10,"s":"t","x":-9,"y":50.6},{"p":10,"s":"t","x":-8.75,"y":64.5},{"p":10,"s":"t","x":-8.5,"y":74.8},{"p":10,"s":"t","x":-8,"y":84.9},{"p":10,"s":"t","x":-7.5,"y":87.9},{"p":10,"s":"t","x":-6.9,"y":88.8},
{"p":10,"s":"c","x":-9.8,"y":1.2},{"p":10,"s":"c","x":-9.5,"y":2.5},{"p":10,"s":"c","x":-9,"y":8.5},{"p":10,"s":"c","x":-8.5,"y":24.7},{"p":10,"s":"c","x":-8.25,"y":38.4},{"p":10,"s":"c","x":-8,"y":54.2},{"p":10,"s":"c","x":-7.75,"y":69.5},{"p":10,"s":"c","x":-7.5,"y":81.7},{"p":10,"s":"c","x":-7,"y":95.4},{"p":10,"s":"c","x":-6.5,"y":100},{"p":10,"s":"c","x":-6,"y":101.5},{"p":10,"s":"c","x":-5,"y":102},
{"p":11,"s":"t","x":-9.8,"y":11.2},{"p":11,"s":"t","x":-9.5,"y":19.3},{"p":11,"s":"t","x":-9.25,"y":28.8},{"p":11,"s":"t","x":-9,"y":41},{"p":11,"s":"t","x":-8.75,"y":55},{"p":11,"s":"t","x":-8.5,"y":69},{"p":11,"s":"t","x":-8.25,"y":81.2},{"p":11,"s":"t","x":-8,"y":90.8},{"p":11,"s":"t","x":-7.5,"y":102.3},{"p":11,"s":"t","x":-7,"y":107.1},{"p":11,"s":"t","x":-6.5,"y":109},{"p":11,"s":"t","x":-6,"y":109.7},{"p":11,"s":"t","x":-5,"y":110},
{"p":11,"s":"c","x":-9.8,"y":0.1},{"p":11,"s":"c","x":-9.5,"y":0.3},{"p":11,"s":"c","x":-9,"y":1.1},{"p":11,"s":"c","x":-8.5,"y":3.7},{"p":11,"s":"c","x":-8,"y":12.1},{"p":11,"s":"c","x":-7.75,"y":20.7},{"p":11,"s":"c","x":-7.5,"y":33.1},{"p":11,"s":"c","x":-7.25,"y":48.7},{"p":11,"s":"c","x":-7,"y":64.9},{"p":11,"s":"c","x":-6.75,"y":78.8},{"p":11,"s":"c","x":-6.5,"y":88.9},{"p":11,"s":"c","x":-6,"y":99.2},{"p":11,"s":"c","x":-5.5,"y":102.6},{"p":11,"s":"c","x":-5,"y":103.6},
{"p":12,"s":"t","x":-9.8,"y":23},{"p":12,"s":"t","x":-9.5,"y":36.5},{"p":12,"s":"t","x":-9.25,"y":50.2},{"p":12,"s":"t","x":-9,"y":64.6},{"p":12,"s":"t","x":-8.75,"y":78},{"p":12,"s":"t","x":-8.5,"y":88.9},{"p":12,"s":"t","x":-8,"y":102.6},{"p":12,"s":"t","x":-7.5,"y":108.4},{"p":12,"s":"t","x":-7,"y":110.7},{"p":12,"s":"t","x":-6,"y":111.8},{"p":12,"s":"t","x":-5,"y":112},
{"p":12,"s":"c","x":-9.8,"y":9.9},{"p":12,"s":"c","x":-9.5,"y":14.6},{"p":12,"s":"c","x":-9,"y":26.7},{"p":12,"s":"c","x":-8.5,"y":44.6},{"p":12,"s":"c","x":-8,"y":64.4},{"p":12,"s":"c","x":-7.5,"y":82.3},{"p":12,"s":"c","x":-7,"y":94.4},{"p":12,"s":"c","x":-6.5,"y":101.6},{"p":12,"s":"c","x":-6,"y":105.4},{"p":12,"s":"c","x":-5.5,"y":107.2},{"p":12,"s":"c","x":-5,"y":108.2},
{"p":13,"s":"t","x":-9.8,"y":8},{"p":13,"s":"t","x":-9.5,"y":13},{"p":13,"s":"t","x":-9,"y":26.2},{"p":13,"s":"t","x":-8.5,"y":44.2},{"p":13,"s":"t","x":-8,"y":60.8},{"p":13,"s":"t","x":-7.5,"y":71.6},{"p":13,"s":"t","x":-7,"y":77},{"p":13,"s":"t","x":-6.5,"y":79.4},{"p":13,"s":"t","x":-6,"y":80.3},{"p":13,"s":"t","x":-5,"y":80.9},
{"p":13,"s":"c","x":-9.8,"y":0.1},{"p":13,"s":"c","x":-9.5,"y":0.2},{"p":13,"s":"c","x":-9,"y":1},{"p":13,"s":"c","x":-8.5,"y":4.4},{"p":13,"s":"c","x":-8.25,"y":8.9},{"p":13,"s":"c","x":-8,"y":17.2},{"p":13,"s":"c","x":-7.75,"y":30.8},{"p":13,"s":"c","x":-7.5,"y":49},{"p":13,"s":"c","x":-7.25,"y":68.4},{"p":13,"s":"c","x":-7,"y":84.2},{"p":13,"s":"c","x":-6.75,"y":94.3},{"p":13,"s":"c","x":-6.5,"y":100.2},{"p":13,"s":"c","x":-6,"y":104.6},{"p":13,"s":"c","x":-5.5,"y":105.6},{"p":13,"s":"c","x":-5,"y":105.9},
{"p":14,"s":"t","x":-9.8,"y":4.5},{"p":14,"s":"t","x":-9.5,"y":7},{"p":14,"s":"t","x":-9,"y":14},{"p":14,"s":"t","x":-8.5,"y":25},{"p":14,"s":"t","x":-8,"y":38.6},{"p":14,"s":"t","x":-7.5,"y":51},{"p":14,"s":"t","x":-7,"y":59.7},{"p":14,"s":"t","x":-6.5,"y":64.5},{"p":14,"s":"t","x":-6,"y":66.9},{"p":14,"s":"t","x":-5.5,"y":68},{"p":14,"s":"t","x":-5,"y":68.5},
{"p":14,"s":"c","x":-9.8,"y":0.1},{"p":14,"s":"c","x":-9.5,"y":0.2},{"p":14,"s":"c","x":-9,"y":0.7},{"p":14,"s":"c","x":-8.5,"y":2.1},{"p":14,"s":"c","x":-8,"y":6.4},{"p":14,"s":"c","x":-7.5,"y":18},{"p":14,"s":"c","x":-7.25,"y":28.3},{"p":14,"s":"c","x":-7,"y":41.8},{"p":14,"s":"c","x":-6.75,"y":57.1},{"p":14,"s":"c","x":-6.5,"y":71.9},{"p":14,"s":"c","x":-6.25,"y":84.2},{"p":14,"s":"c","x":-6,"y":93.2},{"p":14,"s":"c","x":-5.5,"y":102.8},{"p":14,"s":"c","x":-5,"y":106.3}
]},
"spacing":28,
"vconcat":[
{"spacing":17,"vconcat":[
{"spacing":66,"hconcat":[
{"width":312,"height":162,"encoding":{"x":{"field":"x","type":"quantitative","scale":{"domain":[-13,-4],"nice":false,"zero":false},"axis":{"values":[-13,-12,-11,-10,-9,-8,-7,-6,-5,-4],"title":"LOG[[Arg⁵,MeLeu⁹,Nle¹⁰]-NKA(4-10)] (M)"}},"y":{"field":"y","type":"quantitative","scale":{"domain":[-10,125],"nice":false,"zero":false},"axis":{"values":[0,25,50,75,100,125],"title":"% max of SP or NKA response"}}},"layer":[
{"data":{"name":"fit"},"transform":[{"filter":"datum.p==1"}],"mark":{"type":"line","interpolate":"monotone","color":"black","strokeWidth":1.3},"encoding":{"detail":{"field":"s"}}},
{"data":{"name":"pts"},"transform":[{"filter":"datum.p==1 && isValid(datum.lo)"}],"mark":{"type":"errorbar","ticks":{"size":8},"color":"black","thickness":1.6},"encoding":{"y":{"field":"lo","type":"quantitative","title":"% max of SP or NKA response"},"y2":{"field":"hi"}}},
{"data":{"name":"pts"},"transform":[{"filter":"datum.p==1"}],"mark":{"type":"point","filled":true,"opacity":1,"color":"black","size":50},"encoding":{"shape":{"field":"s","type":"nominal","scale":{"domain":["c","t","v"],"range":["circle","triangle-up","triangle-down"]},"legend":null}}}]},
{"width":307,"height":162,"encoding":{"x":{"field":"x","type":"quantitative","scale":{"domain":[-13,-4],"nice":false,"zero":false},"axis":{"values":[-13,-12,-11,-10,-9,-8,-7,-6,-5,-4],"title":"LOG [[Lys⁵]-NKA(4-10)] (M)"}},"y":{"field":"y","type":"quantitative","scale":{"domain":[-10,125],"nice":false,"zero":false},"axis":{"values":[0,25,50,75,100,125],"title":null}}},"layer":[
{"data":{"name":"fit"},"transform":[{"filter":"datum.p==2"}],"mark":{"type":"line","interpolate":"monotone","color":"black","strokeWidth":1.3},"encoding":{"detail":{"field":"s"}}},
{"data":{"name":"pts"},"transform":[{"filter":"datum.p==2 && isValid(datum.lo)"}],"mark":{"type":"errorbar","ticks":{"size":8},"color":"black","thickness":1.6},"encoding":{"y":{"field":"lo","type":"quantitative","title":null},"y2":{"field":"hi"}}},
{"data":{"name":"pts"},"transform":[{"filter":"datum.p==2"}],"mark":{"type":"point","filled":true,"opacity":1,"color":"black","size":50},"encoding":{"shape":{"field":"s","type":"nominal","scale":{"domain":["c","t","v"],"range":["circle","triangle-up","triangle-down"]},"legend":null}}}]}
]},
{"spacing":66,"hconcat":[
{"width":312,"height":162,"encoding":{"x":{"field":"x","type":"quantitative","scale":{"domain":[-13,-4],"nice":false,"zero":false},"axis":{"values":[-13,-12,-11,-10,-9,-8,-7,-6,-5,-4],"title":"LOG [[Lys⁵,MeLeu⁹]-NKA(4-10)] (M)"}},"y":{"field":"y","type":"quantitative","scale":{"domain":[-10,125],"nice":false,"zero":false},"axis":{"values":[0,25,50,75,100,125],"title":"% max of SP or NKA response"}}},"layer":[
{"data":{"name":"fit"},"transform":[{"filter":"datum.p==3"}],"mark":{"type":"line","interpolate":"monotone","color":"black","strokeWidth":1.3},"encoding":{"detail":{"field":"s"}}},
{"data":{"name":"pts"},"transform":[{"filter":"datum.p==3 && isValid(datum.lo)"}],"mark":{"type":"errorbar","ticks":{"size":8},"color":"black","thickness":1.6},"encoding":{"y":{"field":"lo","type":"quantitative","title":"% max of SP or NKA response"},"y2":{"field":"hi"}}},
{"data":{"name":"pts"},"transform":[{"filter":"datum.p==3"}],"mark":{"type":"point","filled":true,"opacity":1,"color":"black","size":50},"encoding":{"shape":{"field":"s","type":"nominal","scale":{"domain":["c","t","v"],"range":["circle","triangle-up","triangle-down"]},"legend":null}}}]},
{"width":307,"height":162,"encoding":{"x":{"field":"x","type":"quantitative","scale":{"domain":[-13,-4],"nice":false,"zero":false},"axis":{"values":[-13,-12,-11,-10,-9,-8,-7,-6,-5,-4],"title":"LOG [[Lys⁵,MeLeu⁹,Nle¹⁰]-NKA(4-10)] (M)"}},"y":{"field":"y","type":"quantitative","scale":{"domain":[-10,125],"nice":false,"zero":false},"axis":{"values":[0,25,50,75,100,125],"title":null}}},"layer":[
{"data":{"name":"fit"},"transform":[{"filter":"datum.p==4"}],"mark":{"type":"line","interpolate":"monotone","color":"black","strokeWidth":1.3},"encoding":{"detail":{"field":"s"}}},
{"data":{"name":"pts"},"transform":[{"filter":"datum.p==4 && isValid(datum.lo)"}],"mark":{"type":"errorbar","ticks":{"size":8},"color":"black","thickness":1.6},"encoding":{"y":{"field":"lo","type":"quantitative","title":null},"y2":{"field":"hi"}}},
{"data":{"name":"pts"},"transform":[{"filter":"datum.p==4"}],"mark":{"type":"point","filled":true,"opacity":1,"color":"black","size":50},"encoding":{"shape":{"field":"s","type":"nominal","scale":{"domain":["c","t","v"],"range":["circle","triangle-up","triangle-down"]},"legend":null}}}]}
]},
{"spacing":66,"hconcat":[
{"width":312,"height":162,"encoding":{"x":{"field":"x","type":"quantitative","scale":{"domain":[-13,-4],"nice":false,"zero":false},"axis":{"values":[-13,-12,-11,-10,-9,-8,-7,-6,-5,-4],"title":"LOG[[Arg⁵,β-Ala⁸]-NKA(4-10)] (M)"}},"y":{"field":"y","type":"quantitative","scale":{"domain":[-10,125],"nice":false,"zero":false},"axis":{"values":[0,25,50,75,100,125],"title":"% max of SP or NKA response"}}},"layer":[
{"data":{"name":"fit"},"transform":[{"filter":"datum.p==5"}],"mark":{"type":"line","interpolate":"monotone","color":"black","strokeWidth":1.3},"encoding":{"detail":{"field":"s"}}},
{"data":{"name":"pts"},"transform":[{"filter":"datum.p==5 && isValid(datum.lo)"}],"mark":{"type":"errorbar","ticks":{"size":8},"color":"black","thickness":1.6},"encoding":{"y":{"field":"lo","type":"quantitative","title":"% max of SP or NKA response"},"y2":{"field":"hi"}}},
{"data":{"name":"pts"},"transform":[{"filter":"datum.p==5"}],"mark":{"type":"point","filled":true,"opacity":1,"color":"black","size":50},"encoding":{"shape":{"field":"s","type":"nominal","scale":{"domain":["c","t","v"],"range":["circle","triangle-up","triangle-down"]},"legend":null}}}]},
{"width":307,"height":162,"encoding":{"x":{"field":"x","type":"quantitative","scale":{"domain":[-13,-4],"nice":false,"zero":false},"axis":{"values":[-13,-12,-11,-10,-9,-8,-7,-6,-5,-4],"title":"LOG[[Arg⁵,MeLeu⁹]-NKA(4-10)] (M)"}},"y":{"field":"y","type":"quantitative","scale":{"domain":[-10,125],"nice":false,"zero":false},"axis":{"values":[0,25,50,75,100,125],"title":null}}},"layer":[
{"data":{"name":"fit"},"transform":[{"filter":"datum.p==6"}],"mark":{"type":"line","interpolate":"monotone","color":"black","strokeWidth":1.3},"encoding":{"detail":{"field":"s"}}},
{"data":{"name":"pts"},"transform":[{"filter":"datum.p==6 && isValid(datum.lo)"}],"mark":{"type":"errorbar","ticks":{"size":8},"color":"black","thickness":1.6},"encoding":{"y":{"field":"lo","type":"quantitative","title":null},"y2":{"field":"hi"}}},
{"data":{"name":"pts"},"transform":[{"filter":"datum.p==6"}],"mark":{"type":"point","filled":true,"opacity":1,"color":"black","size":50},"encoding":{"shape":{"field":"s","type":"nominal","scale":{"domain":["c","t","v"],"range":["circle","triangle-up","triangle-down"]},"legend":null}}}]}
]},
{"spacing":66,"hconcat":[
{"width":312,"height":162,"encoding":{"x":{"field":"x","type":"quantitative","scale":{"domain":[-13,-4],"nice":false,"zero":false},"axis":{"values":[-13,-12,-11,-10,-9,-8,-7,-6,-5,-4],"title":"LOG[[Lys⁵,β-Ala⁸]-NKA(4-10)] (M)"}},"y":{"field":"y","type":"quantitative","scale":{"domain":[-10,125],"nice":false,"zero":false},"axis":{"values":[0,25,50,75,100,125],"title":"% max of SP or NKA response"}}},"layer":[
{"data":{"name":"fit"},"transform":[{"filter":"datum.p==7"}],"mark":{"type":"line","interpolate":"monotone","color":"black","strokeWidth":1.3},"encoding":{"detail":{"field":"s"}}},
{"data":{"name":"pts"},"transform":[{"filter":"datum.p==7 && isValid(datum.lo)"}],"mark":{"type":"errorbar","ticks":{"size":8},"color":"black","thickness":1.6},"encoding":{"y":{"field":"lo","type":"quantitative","title":"% max of SP or NKA response"},"y2":{"field":"hi"}}},
{"data":{"name":"pts"},"transform":[{"filter":"datum.p==7"}],"mark":{"type":"point","filled":true,"opacity":1,"color":"black","size":50},"encoding":{"shape":{"field":"s","type":"nominal","scale":{"domain":["c","t","v"],"range":["circle","triangle-up","triangle-down"]},"legend":null}}}]},
{"width":307,"height":162,"encoding":{"x":{"field":"x","type":"quantitative","scale":{"domain":[-13,-4],"nice":false,"zero":false},"axis":{"values":[-13,-12,-11,-10,-9,-8,-7,-6,-5,-4],"title":"LOG[[Arg⁵]-NKA(4-10)] (M)"}},"y":{"field":"y","type":"quantitative","scale":{"domain":[-10,125],"nice":false,"zero":false},"axis":{"values":[0,25,50,75,100,125],"title":null}}},"layer":[
{"data":{"name":"fit"},"transform":[{"filter":"datum.p==8"}],"mark":{"type":"line","interpolate":"monotone","color":"black","strokeWidth":1.3},"encoding":{"detail":{"field":"s"}}},
{"data":{"name":"pts"},"transform":[{"filter":"datum.p==8 && isValid(datum.lo)"}],"mark":{"type":"errorbar","ticks":{"size":8},"color":"black","thickness":1.6},"encoding":{"y":{"field":"lo","type":"quantitative","title":null},"y2":{"field":"hi"}}},
{"data":{"name":"pts"},"transform":[{"filter":"datum.p==8"}],"mark":{"type":"point","filled":true,"opacity":1,"color":"black","size":50},"encoding":{"shape":{"field":"s","type":"nominal","scale":{"domain":["c","t","v"],"range":["circle","triangle-up","triangle-down"]},"legend":null}}}]}
]}
]},
{"spacing":38,"vconcat":[
{"spacing":66,"hconcat":[
{"width":312,"height":187,"encoding":{"x":{"field":"x","type":"quantitative","scale":{"domain":[-13,-4],"nice":false,"zero":false},"axis":{"values":[-13,-12,-11,-10,-9,-8,-7,-6,-5,-4],"title":"LOG[[Arg⁵,Nle¹⁰]-NKA(4-10)] (M)"}},"y":{"field":"y","type":"quantitative","scale":{"domain":[-10,125],"nice":false,"zero":false},"axis":{"values":[0,25,50,75,100,125],"title":"% max of SP or NKA response"}}},"layer":[
{"data":{"name":"fit"},"transform":[{"filter":"datum.p==9"}],"mark":{"type":"line","interpolate":"monotone","color":"black","strokeWidth":1.3},"encoding":{"detail":{"field":"s"}}},
{"data":{"name":"pts"},"transform":[{"filter":"datum.p==9 && isValid(datum.lo)"}],"mark":{"type":"errorbar","ticks":{"size":8},"color":"black","thickness":1.6},"encoding":{"y":{"field":"lo","type":"quantitative","title":"% max of SP or NKA response"},"y2":{"field":"hi"}}},
{"data":{"name":"pts"},"transform":[{"filter":"datum.p==9"}],"mark":{"type":"point","filled":true,"opacity":1,"color":"black","size":50},"encoding":{"shape":{"field":"s","type":"nominal","scale":{"domain":["c","t","v"],"range":["circle","triangle-up","triangle-down"]},"legend":null}}}]},
{"width":307,"height":187,"encoding":{"x":{"field":"x","type":"quantitative","scale":{"domain":[-13,-4],"nice":false,"zero":false},"axis":{"values":[-13,-12,-11,-10,-9,-8,-7,-6,-5,-4],"title":"LOG[[Lys⁵,Nle¹⁰]-NKA(4-10)] (M)"}},"y":{"field":"y","type":"quantitative","scale":{"domain":[-10,125],"nice":false,"zero":false},"axis":{"values":[0,25,50,75,100,125],"title":null}}},"layer":[
{"data":{"name":"fit"},"transform":[{"filter":"datum.p==10"}],"mark":{"type":"line","interpolate":"monotone","color":"black","strokeWidth":1.3},"encoding":{"detail":{"field":"s"}}},
{"data":{"name":"pts"},"transform":[{"filter":"datum.p==10 && isValid(datum.lo)"}],"mark":{"type":"errorbar","ticks":{"size":8},"color":"black","thickness":1.6},"encoding":{"y":{"field":"lo","type":"quantitative","title":null},"y2":{"field":"hi"}}},
{"data":{"name":"pts"},"transform":[{"filter":"datum.p==10"}],"mark":{"type":"point","filled":true,"opacity":1,"color":"black","size":50},"encoding":{"shape":{"field":"s","type":"nominal","scale":{"domain":["c","t","v"],"range":["circle","triangle-up","triangle-down"]},"legend":null}}}]}
]},
{"spacing":66,"hconcat":[
{"width":312,"height":187,"encoding":{"x":{"field":"x","type":"quantitative","scale":{"domain":[-13,-4],"nice":false,"zero":false},"axis":{"values":[-13,-12,-11,-10,-9,-8,-7,-6,-5,-4],"title":"LOG[[β-Ala⁸]-NKA(4-10)] (M)"}},"y":{"field":"y","type":"quantitative","scale":{"domain":[-10,125],"nice":false,"zero":false},"axis":{"values":[0,25,50,75,100,125],"title":"% max of SP or NKA response"}}},"layer":[
{"data":{"name":"fit"},"transform":[{"filter":"datum.p==11"}],"mark":{"type":"line","interpolate":"monotone","color":"black","strokeWidth":1.3},"encoding":{"detail":{"field":"s"}}},
{"data":{"name":"pts"},"transform":[{"filter":"datum.p==11 && isValid(datum.lo)"}],"mark":{"type":"errorbar","ticks":{"size":8},"color":"black","thickness":1.6},"encoding":{"y":{"field":"lo","type":"quantitative","title":"% max of SP or NKA response"},"y2":{"field":"hi"}}},
{"data":{"name":"pts"},"transform":[{"filter":"datum.p==11"}],"mark":{"type":"point","filled":true,"opacity":1,"color":"black","size":50},"encoding":{"shape":{"field":"s","type":"nominal","scale":{"domain":["c","t","v"],"range":["circle","triangle-up","triangle-down"]},"legend":null}}}]},
{"width":307,"height":187,"encoding":{"x":{"field":"x","type":"quantitative","scale":{"domain":[-13,-4],"nice":false,"zero":false},"axis":{"values":[-13,-12,-11,-10,-9,-8,-7,-6,-5,-4],"title":"LOG[NKA(4-10)] (M)"}},"y":{"field":"y","type":"quantitative","scale":{"domain":[-10,150],"nice":false,"zero":false},"axis":{"values":[0,25,50,75,100,125,150],"title":null}}},"layer":[
{"data":{"name":"fit"},"transform":[{"filter":"datum.p==12"}],"mark":{"type":"line","interpolate":"monotone","color":"black","strokeWidth":1.3},"encoding":{"detail":{"field":"s"}}},
{"data":{"name":"pts"},"transform":[{"filter":"datum.p==12 && isValid(datum.lo)"}],"mark":{"type":"errorbar","ticks":{"size":8},"color":"black","thickness":1.6},"encoding":{"y":{"field":"lo","type":"quantitative","title":null},"y2":{"field":"hi"}}},
{"data":{"name":"pts"},"transform":[{"filter":"datum.p==12"}],"mark":{"type":"point","filled":true,"opacity":1,"color":"black","size":50},"encoding":{"shape":{"field":"s","type":"nominal","scale":{"domain":["c","t","v"],"range":["circle","triangle-up","triangle-down"]},"legend":null}}}]}
]},
{"spacing":66,"hconcat":[
{"width":312,"height":185,"encoding":{"x":{"field":"x","type":"quantitative","scale":{"domain":[-13,-4],"nice":false,"zero":false},"axis":{"values":[-13,-12,-11,-10,-9,-8,-7,-6,-5,-4],"title":"LOG[[Arg⁵,β-Ala⁸,Nle¹⁰]-NKA(4-10)] (M)"}},"y":{"field":"y","type":"quantitative","scale":{"domain":[-10,125],"nice":false,"zero":false},"axis":{"values":[0,25,50,75,100,125],"title":"% max of SP or NKA response"}}},"layer":[
{"data":{"name":"fit"},"transform":[{"filter":"datum.p==13"}],"mark":{"type":"line","interpolate":"monotone","color":"black","strokeWidth":1.3},"encoding":{"detail":{"field":"s"}}},
{"data":{"name":"pts"},"transform":[{"filter":"datum.p==13 && isValid(datum.lo)"}],"mark":{"type":"errorbar","ticks":{"size":8},"color":"black","thickness":1.6},"encoding":{"y":{"field":"lo","type":"quantitative","title":"% max of SP or NKA response"},"y2":{"field":"hi"}}},
{"data":{"name":"pts"},"transform":[{"filter":"datum.p==13"}],"mark":{"type":"point","filled":true,"opacity":1,"color":"black","size":50},"encoding":{"shape":{"field":"s","type":"nominal","scale":{"domain":["c","t","v"],"range":["circle","triangle-up","triangle-down"]},"legend":null}}}]},
{"width":307,"height":185,"encoding":{"x":{"field":"x","type":"quantitative","scale":{"domain":[-11,-4],"nice":false,"zero":false},"axis":{"values":[-11,-10,-9,-8,-7,-6,-5,-4],"title":"LOG [[Lys⁵,β-Ala⁸,Nle¹⁰]-NKA(4-10)] (M)"}},"y":{"field":"y","type":"quantitative","scale":{"domain":[-10,125],"nice":false,"zero":false},"axis":{"values":[0,25,50,75,100,125],"title":null}}},"layer":[
{"data":{"name":"fit"},"transform":[{"filter":"datum.p==14"}],"mark":{"type":"line","interpolate":"monotone","color":"black","strokeWidth":1.3},"encoding":{"detail":{"field":"s"}}},
{"data":{"name":"pts"},"transform":[{"filter":"datum.p==14 && isValid(datum.lo)"}],"mark":{"type":"errorbar","ticks":{"size":8},"color":"black","thickness":1.6},"encoding":{"y":{"field":"lo","type":"quantitative","title":null},"y2":{"field":"hi"}}},
{"data":{"name":"pts"},"transform":[{"filter":"datum.p==14"}],"mark":{"type":"point","filled":true,"opacity":1,"color":"black","size":50},"encoding":{"shape":{"field":"s","type":"nominal","scale":{"domain":["c","t","v"],"range":["circle","triangle-up","triangle-down"]},"legend":null}}}]}
]}
]}
]
}
